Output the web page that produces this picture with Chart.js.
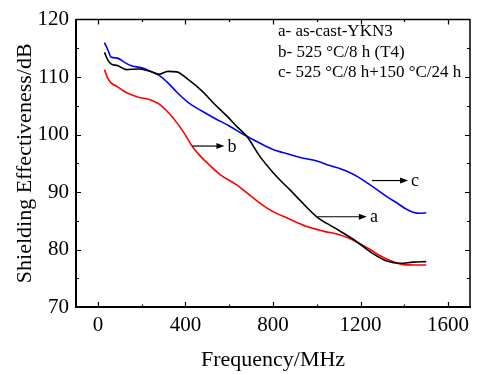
<!DOCTYPE html>
<html>
<head>
<meta charset="utf-8">
<script src="https://cdn.jsdelivr.net/npm/chart.js@4.4.1/dist/chart.umd.min.js"></script>
<style>
  html, body { margin: 0; padding: 0; background: #fff; }
</style>
</head>
<body>
<canvas id="seChart" width="477" height="374"></canvas>
<script>
const FONT = "'Liberation Serif', 'Times New Roman', serif";

// a- as-cast-YKN3 (black)
const freqA = [30, 45, 60, 90, 130, 185, 230, 280, 320, 360, 415, 475, 530, 590, 640, 680, 740, 800, 834, 880, 925, 1000, 1080, 1170, 1260, 1320, 1380, 1440, 1500];
const seA   = [114.3, 113.0, 112.3, 112.0, 111.3, 111.4, 111.1, 110.5, 111.0, 110.9, 109.5, 107.6, 105.4, 103.2, 101.2, 99.7, 96.2, 93.4, 92.0, 90.3, 88.5, 85.7, 83.8, 81.7, 79.2, 78.0, 77.6, 77.8, 77.9];

// b- 525 °C/8 h (T4) (red)
const freqB = [30, 45, 60, 90, 125, 185, 235, 280, 325, 370, 400, 430, 460, 485, 560, 636, 712, 790, 870, 955, 1030, 1100, 1150, 1230, 1300, 1380, 1440, 1500];
const seB   = [111.3, 109.8, 109.0, 108.3, 107.4, 106.5, 106.1, 105.3, 103.7, 101.6, 99.9, 98.0, 96.6, 95.6, 93.0, 91.2, 88.9, 86.8, 85.4, 84.0, 83.2, 82.6, 81.9, 80.3, 78.7, 77.5, 77.3, 77.3];

// c- 525 °C/8 h+150 °C/24 h (blue)
const freqC = [30, 45, 60, 90, 120, 150, 200, 240, 280, 320, 360, 415, 475, 535, 600, 666, 730, 800, 870, 925, 1000, 1060, 1110, 1150, 1190, 1230, 1280, 1320, 1370, 1410, 1440, 1470, 1500];
const seC   = [116.0, 114.8, 113.5, 113.3, 112.6, 112.0, 111.6, 111.0, 110.3, 109.0, 107.4, 105.5, 104.1, 102.8, 101.5, 100.0, 98.7, 97.4, 96.6, 96.0, 95.4, 94.6, 94.0, 93.4, 92.6, 91.6, 90.3, 89.2, 88.0, 87.0, 86.5, 86.3, 86.4];

const xTicks = [0, 400, 800, 1200, 1600];
const yTicks = [70, 80, 90, 100, 110, 120];

const legendLines = ['a- as-cast-YKN3', 'b- 525 °C/8 h (T4)', 'c- 525 °C/8 h+150 °C/24 h'];

// arrow annotations, in data units: [label, fromX, toX, y]
const arrowNotes = [
  ['a', 1004, 1229, 85.7],
  ['b', 431, 578, 98.0],
  ['c', 1252, 1417, 92.0]
];

const toPoints = (xs, ys) => xs.map((f, i) => ({ x: f, y: ys[i] }));

const decorations = {
  id: 'decorations',
  afterDatasetsDraw(chart) {
    const { ctx, chartArea: a, scales: { x, y } } = chart;
    ctx.save();
    ctx.strokeStyle = '#000';
    ctx.fillStyle = '#000';

    // top and right frame
    ctx.lineWidth = 1.5;
    ctx.beginPath();
    ctx.moveTo(a.left, a.top);
    ctx.lineTo(a.right, a.top);
    ctx.lineTo(a.right, a.bottom);
    ctx.stroke();

    // inward tick marks on all four sides
    ctx.lineWidth = 1.2;
    ctx.beginPath();
    const xStep = (xTicks[1] - xTicks[0]) / 2;
    for (let v = xTicks[0]; v <= xTicks[xTicks.length - 1]; v += xStep) {
      const len = (v % (xStep * 2) === 0) ? 5 : 2.5;
      const px = Math.round(x.getPixelForValue(v)) + 0.5;
      ctx.moveTo(px, a.bottom); ctx.lineTo(px, a.bottom - len);
      ctx.moveTo(px, a.top); ctx.lineTo(px, a.top + len);
    }
    const yStep = (yTicks[1] - yTicks[0]) / 2;
    for (let v = yTicks[0] + yStep; v < yTicks[yTicks.length - 1]; v += yStep) {
      const len = (v % (yStep * 2) === 0) ? 5 : 3;
      const py = Math.round(y.getPixelForValue(v)) + 0.5;
      ctx.moveTo(a.left, py); ctx.lineTo(a.left + len, py);
      ctx.moveTo(a.right, py); ctx.lineTo(a.right - len, py);
    }
    ctx.stroke();

    // legend text block
    ctx.font = '17px ' + FONT;
    ctx.textBaseline = 'middle';
    ctx.textAlign = 'left';
    legendLines.forEach((t, i) => ctx.fillText(t, 278, 32 + i * 20.5));

    // arrows with labels
    ctx.lineWidth = 1.2;
    ctx.font = '18px ' + FONT;
    arrowNotes.forEach(([lab, x0, x1, yv]) => {
      const sx = x.getPixelForValue(x0);
      const ex = x.getPixelForValue(x1);
      const py = y.getPixelForValue(yv);
      ctx.beginPath();
      ctx.moveTo(sx, py);
      ctx.lineTo(ex - 6, py);
      ctx.stroke();
      ctx.beginPath();
      ctx.moveTo(ex, py);
      ctx.lineTo(ex - 8, py - 3);
      ctx.lineTo(ex - 8, py + 3);
      ctx.closePath();
      ctx.fill();
      ctx.fillText(lab, ex + 3, py + 1);
    });
    ctx.restore();
  }
};

const lineStyle = (color) => ({
  borderColor: color,
  backgroundColor: color,
  borderWidth: 1.6,
  pointRadius: 0,
  cubicInterpolationMode: 'monotone',
  fill: false
});

new Chart(document.getElementById('seChart'), {
  type: 'line',
  data: {
    datasets: [
      { label: 'a', data: toPoints(freqA, seA), ...lineStyle('#000000') },
      { label: 'b', data: toPoints(freqB, seB), ...lineStyle('#ff0000') },
      { label: 'c', data: toPoints(freqC, seC), ...lineStyle('#0000ff') }
    ]
  },
  options: {
    responsive: false,
    animation: false,
    devicePixelRatio: 1,
    layout: { padding: { top: 15, right: 7, left: 0, bottom: 0 } },
    plugins: { legend: { display: false }, tooltip: { enabled: false } },
    scales: {
      x: {
        type: 'linear',
        min: -100,
        max: 1700,
        afterBuildTicks: (s) => { s.ticks = xTicks.map(v => ({ value: v })); },
        afterFit: (s) => { s.height = 67; },
        grid: { drawOnChartArea: false, drawTicks: false },
        border: { display: true, color: '#000', width: 2 },
        ticks: { color: '#000', font: { family: FONT, size: 21 }, padding: 6, maxRotation: 0, callback: (v) => String(v) },
        title: { display: true, text: 'Frequency/MHz', color: '#000', font: { family: FONT, size: 22 }, padding: { top: 0, bottom: 1 } }
      },
      y: {
        min: 70,
        max: 120,
        afterBuildTicks: (s) => { s.ticks = yTicks.map(v => ({ value: v })); },
        afterFit: (s) => { s.width = 76; },
        grid: { drawOnChartArea: false, drawTicks: false },
        border: { display: true, color: '#000', width: 2 },
        ticks: { color: '#000', font: { family: FONT, size: 21 }, padding: 7, callback: (v) => String(v) },
        title: { display: true, text: 'Shielding Effectiveness/dB', color: '#000', font: { family: FONT, size: 22 }, padding: { top: 12, bottom: 0 } }
      }
    }
  },
  plugins: [decorations]
});
</script>
</body>
</html>
